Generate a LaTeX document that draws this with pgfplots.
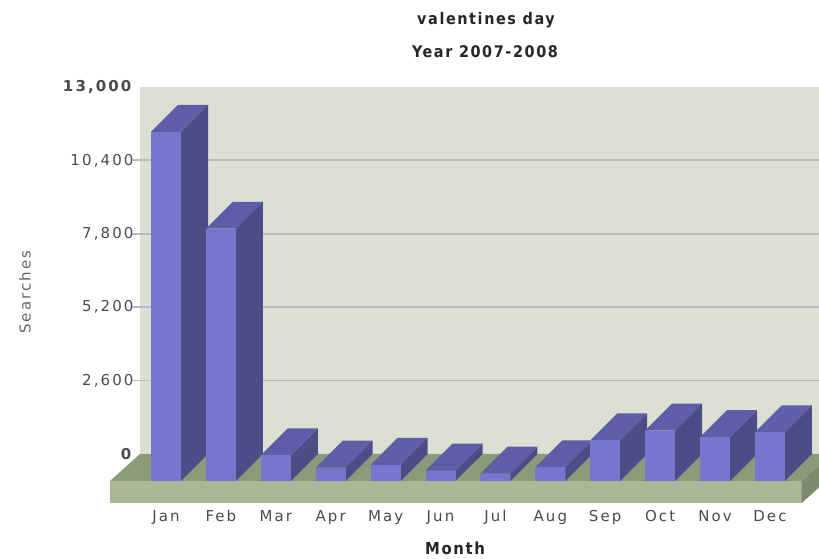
\documentclass[border=0pt]{standalone}
\usepackage{fontspec}
\setmainfont{DejaVu Sans}
\newfontfamily\tickfont[LetterSpace=14]{DejaVu Sans}
\newfontfamily\titlefont[LetterSpace=10]{DejaVu Sans Condensed}
\usepackage{pgfplots}
\pgfplotsset{compat=1.18}
\definecolor{wall}{HTML}{DCE0D2}
\definecolor{gridc}{HTML}{B6BACD}
\definecolor{floorfront}{HTML}{A9B896}
\definecolor{floortop}{HTML}{8B9A79}
\definecolor{floorside}{HTML}{7D8B6C}
\definecolor{barfront}{HTML}{7676CE}
\definecolor{bartop}{HTML}{5E5EA8}
\definecolor{barside}{HTML}{4C4C86}
\definecolor{ticktext}{HTML}{4A4A4A}
% geometry (axis units): half bar width, depth shift in x and y
\def\hw{0.2732}
\def\ddx{0.4918}
\def\ddy{956}
\begin{document}
\begin{tikzpicture}
\useasboundingbox (0,0) rectangle (819pt,559pt);
\begin{axis}[
  at={(110pt,56pt)}, anchor=south west,
  scale only axis, width=709pt, height=416pt,
  xmin=-1.02, xmax=11.894, ymin=-1736, ymax=13000,
  axis line style={draw=none}, major tick length=0pt,
  scaled y ticks=false,
  xtick={0,...,11},
  xticklabels={Jan,Feb,Mar,Apr,May,Jun,Jul,Aug,Sep,Oct,Nov,Dec},
  ytick={0,2600,5200,7800,10400,13000},
  yticklabels={{\textbf{0}},{2,600},{5,200},{7,800},{10,400},{\textbf{13,000}}},
  every y tick label/.append style={xshift=27pt, font=\tickfont\fontsize{15}{15}\selectfont, text=ticktext},
  every x tick label/.append style={yshift=-4pt, font=\tickfont\fontsize{15}{15}\selectfont, text=ticktext},
  /pgf/number format/assume math mode=true,
]
% back wall
\fill[wall] (axis cs:-0.4736,0) rectangle (axis cs:12.3,13000);
% gridlines
\foreach \g in {2600,5200,7800,10400}{
  \edef\tmp{\noexpand\draw[gridc, line width=1.8pt] (axis cs:-0.62,\g) -- (axis cs:12.3,\g);}\tmp
}
% floor
\addplot[fill=floortop, draw=none] coordinates {(-1.02,-956) (11.579,-956) (12.126,0) (-0.4736,0)} -- cycle;
\addplot[fill=floorfront, draw=none] coordinates {(-1.02,-1736) (11.579,-1736) (11.579,-956) (-1.02,-956)} -- cycle;
\addplot[fill=floorside, draw=none] coordinates {(11.579,-1736) (12.126,-780) (12.126,0) (11.579,-956)} -- cycle;
% bars: index/value
\foreach \i/\v in {0/12370,1/8935,2/910,3/472,4/572,5/365,6/260,7/485,8/1435,9/1785,10/1555,11/1726}{
  \pgfmathsetmacro\xa{\i-\hw}
  \pgfmathsetmacro\xb{\i+\hw}
  \pgfmathsetmacro\xc{\i+\hw+\ddx}
  \pgfmathsetmacro\xd{\i-\hw+\ddx}
  \pgfmathsetmacro\yf{\v-\ddy}
  \edef\tmp{%
    \noexpand\addplot[fill=barside, draw=none] coordinates {(\xb,-\ddy) (\xc,0) (\xc,\v) (\xb,\yf)} -- cycle;
    \noexpand\addplot[fill=bartop, draw=none] coordinates {(\xa,\yf) (\xb,\yf) (\xc,\v) (\xd,\v)} -- cycle;
    \noexpand\addplot[fill=barfront, draw=none] coordinates {(\xa,-\ddy) (\xb,-\ddy) (\xb,\yf) (\xa,\yf)} -- cycle;
  }\tmp
}
\end{axis}
\node[font=\titlefont\bfseries\fontsize{16}{16}\selectfont, text=black!85] at (486pt,539pt) {valentines day};
\node[font=\titlefont\bfseries\fontsize{16}{16}\selectfont, text=black!85] at (485pt,507pt) {Year 2007-2008};
\node[font=\titlefont\bfseries\fontsize{16.5}{16.5}\selectfont, text=black!85] at (455pt,11pt) {Month};
\node[rotate=90, font=\tickfont\fontsize{15}{15}\selectfont, text=black!60] at (25pt,267pt) {Searches};
\end{tikzpicture}
\end{document}
